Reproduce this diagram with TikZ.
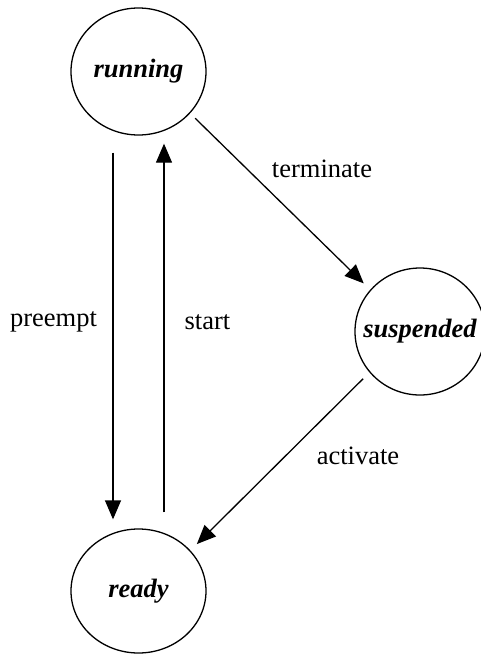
\documentclass[tikz,border=0pt]{standalone}
\usepackage{fontspec}
\setmainfont{Liberation Serif}
\usetikzlibrary{arrows.meta,shapes.geometric}
\begin{document}
\begin{tikzpicture}[x=1pt,y=-1pt,
  state/.style={draw,ellipse,line width=1.3pt,inner sep=0pt,minimum width=135pt,minimum height=127pt},
  statetext/.style={font=\fontsize{26.5}{30}\selectfont\bfseries\itshape,inner sep=0pt},
  conn/.style={line width=1.3pt,-{Triangle[length=19pt,width=16pt]}},
  lbl/.style={font=\fontsize{26.5}{30}\selectfont,inner sep=0pt}]
\useasboundingbox (0,0) rectangle (481,654);
\node[state,label={[statetext]center:running}] (run) at (138.5,71.5) {};
\node[state,minimum width=130pt,label={[statetext]center:suspended}] (sus) at (420,331.5) {};
\node[state,minimum height=124pt,label={[statetext]center:ready}] (rdy) at (138.5,591) {};
\draw[conn,shorten <=7pt,shorten >=9pt] (run.-39) -- (sus.140);
\draw[conn,shorten <=9pt,shorten >=9pt] (sus.-141) -- (rdy.38);
\draw[conn,shorten <=17pt,shorten >=9pt] ([xshift=-25.5pt]run.south) -- ([xshift=-25.5pt]rdy.north);
\draw[conn,shorten <=16pt,shorten >=8pt] ([xshift=25.5pt]rdy.north) -- ([xshift=25.5pt]run.south);
\node[lbl] (lt) at (322,169) {terminate};
\node[lbl] (lp) at (53.5,322) {preempt};
\node[lbl] (ls) at (207.5,322) {start};
\node[lbl] (la) at (358,456) {activate};
\end{tikzpicture}
\end{document}
